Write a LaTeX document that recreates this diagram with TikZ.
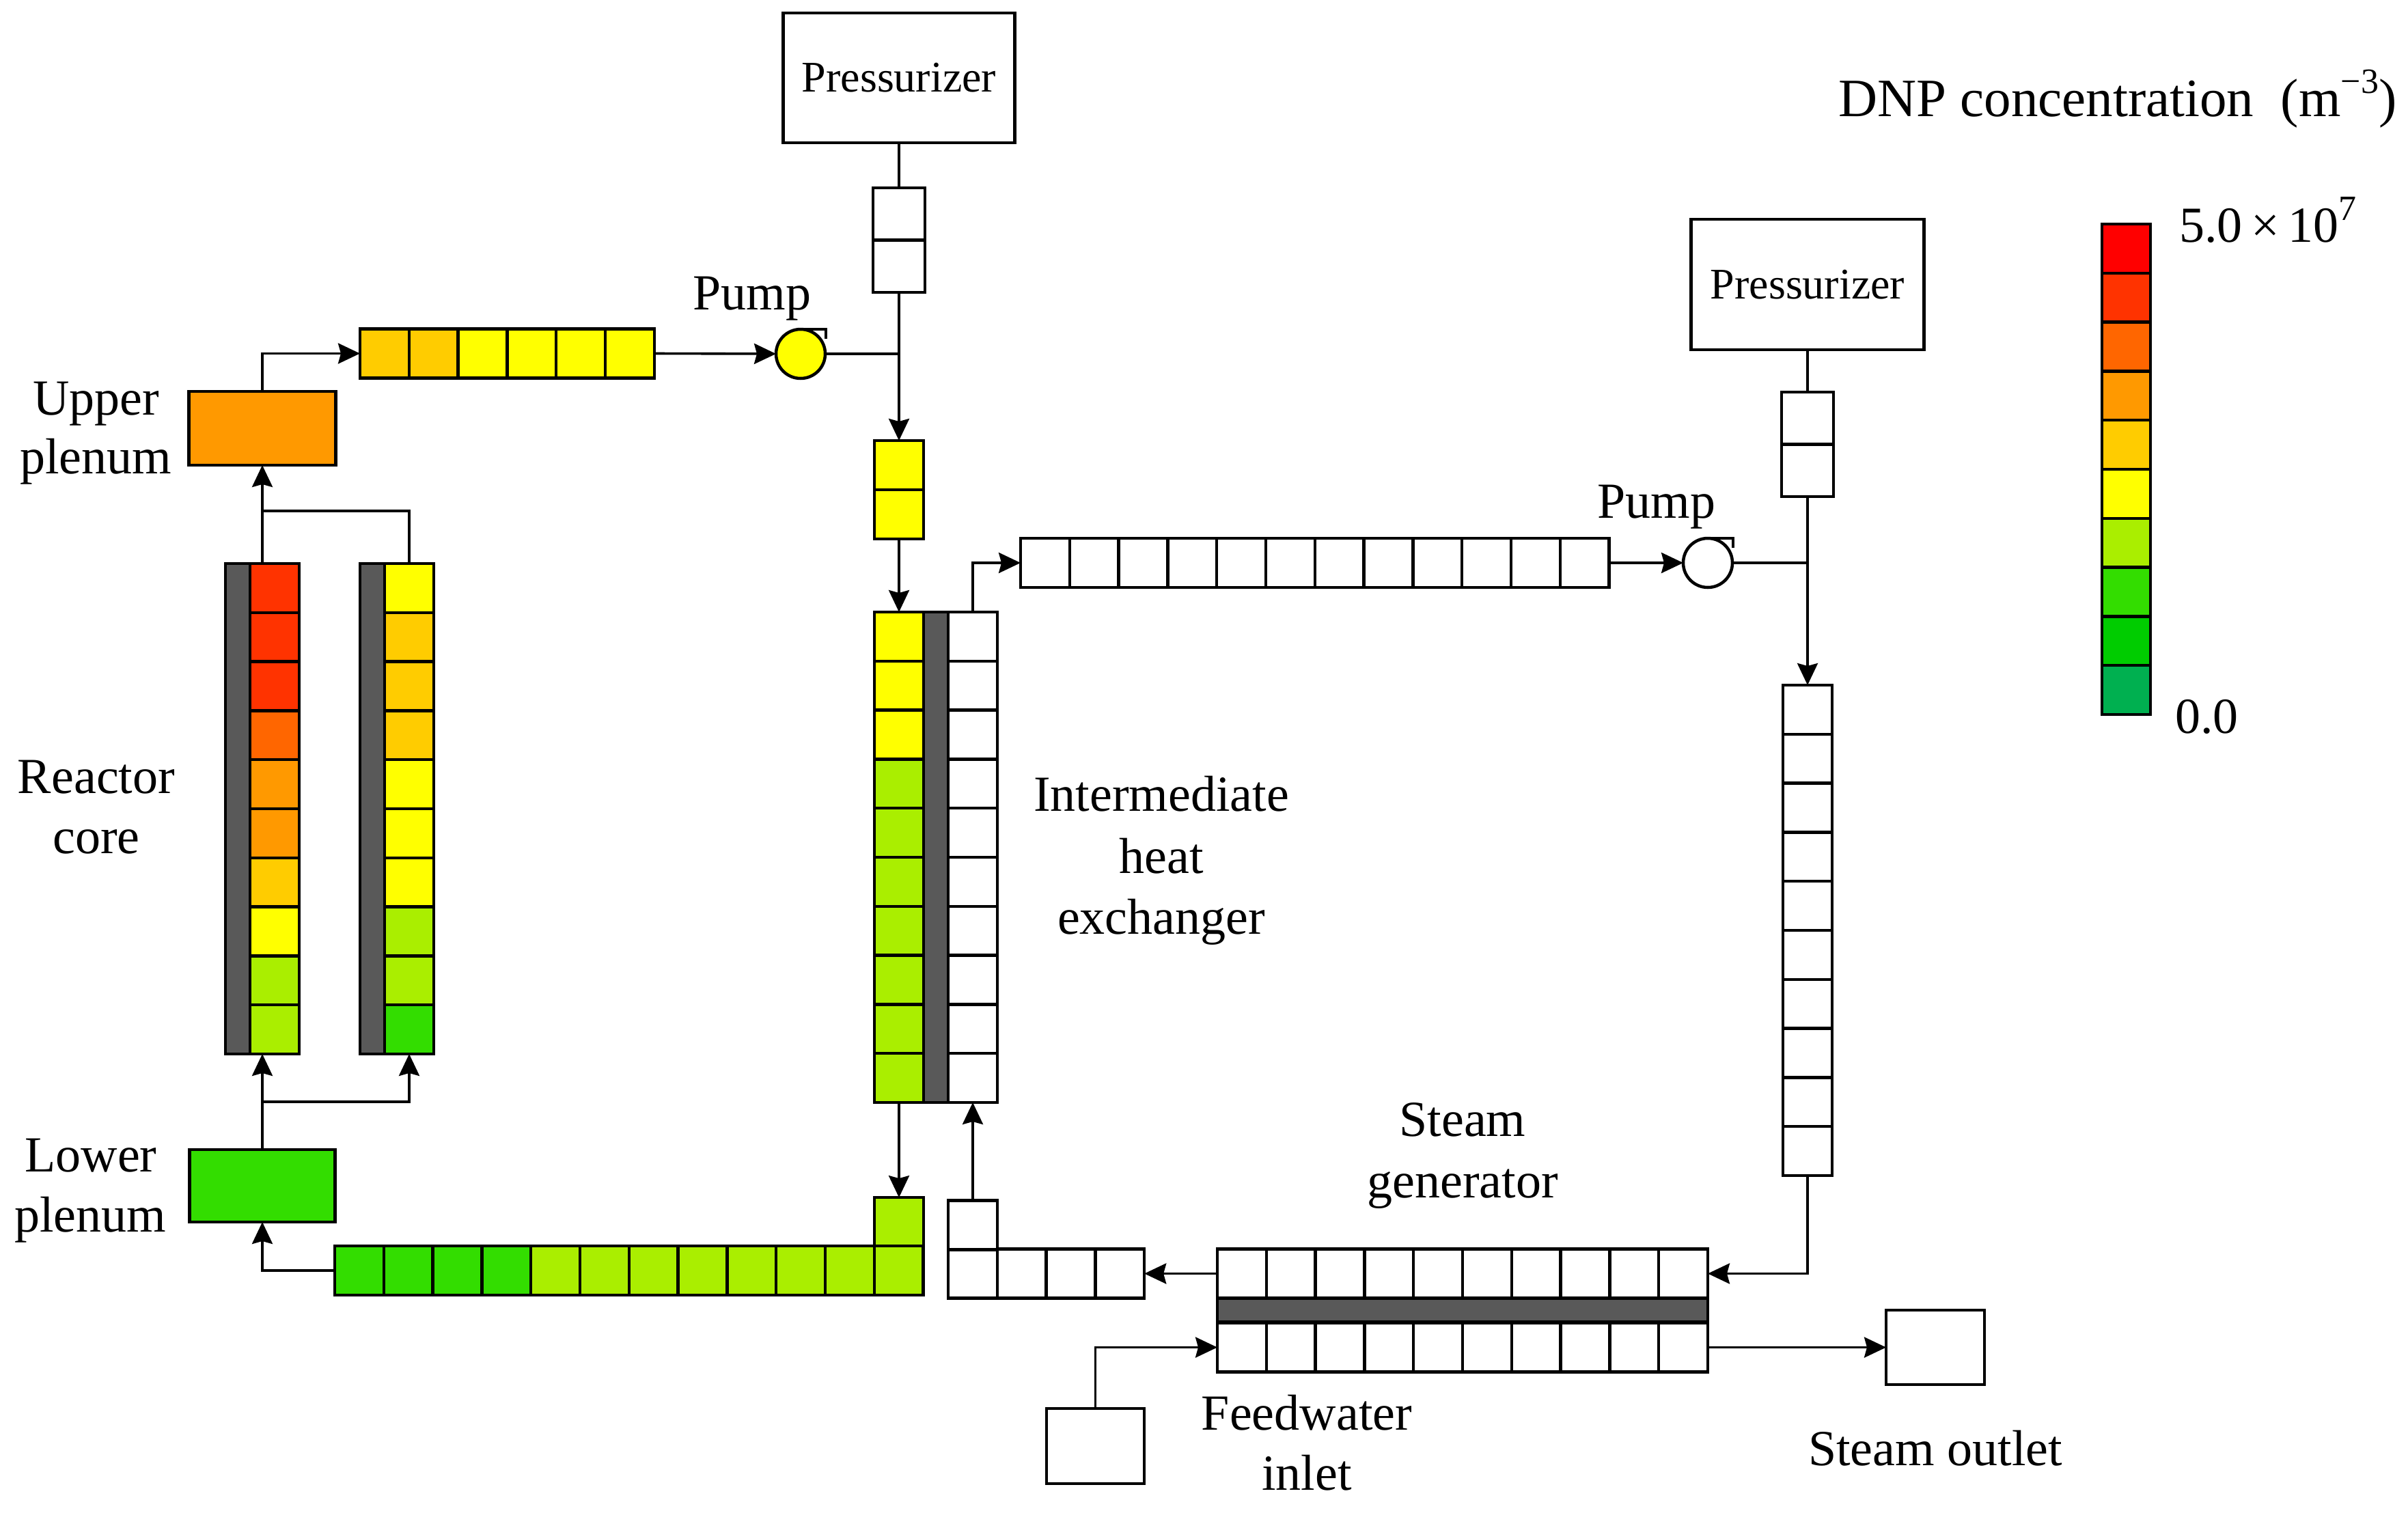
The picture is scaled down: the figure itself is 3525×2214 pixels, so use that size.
\documentclass[tikz,border=0pt]{standalone}
\usepackage{fontspec}
\setmainfont{Liberation Serif}
\usetikzlibrary{arrows.meta}
\definecolor{cA}{HTML}{FF0000}
\definecolor{cB}{HTML}{FF3300}
\definecolor{cC}{HTML}{FF6600}
\definecolor{cD}{HTML}{FF9900}
\definecolor{cE}{HTML}{FFCC00}
\definecolor{cF}{HTML}{FFFF00}
\definecolor{cG}{HTML}{AAEE00}
\definecolor{cH}{HTML}{33DD00}
\definecolor{cI}{HTML}{00CC00}
\definecolor{cJ}{HTML}{00B050}
\definecolor{dk}{HTML}{595959}
\newcommand{\mysup}[1]{\raisebox{0.42em}{\fontsize{52}{52}\selectfont #1}}
\begin{document}
\begin{tikzpicture}[x=1pt,y=-1pt,
  cell/.style={draw=black, line width=4.5pt, inner sep=0pt, outer sep=0pt, minimum width=71.8pt, minimum height=71.8pt, fill=white},
  box/.style={draw=black, line width=4.5pt, inner sep=0pt, outer sep=0pt, fill=white},
  dark/.style={draw=black, line width=4.5pt, inner sep=0pt, outer sep=0pt, fill=dk},
  outline/.style={draw=black, line width=4.5pt, inner sep=0pt, outer sep=0pt},
  pumpc/.style={circle, draw=black, line width=4.5pt, inner sep=0pt, outer sep=0pt, minimum size=72pt},
  conn/.style={draw=black, line width=3.6pt},
  arr/.style={conn, -{Stealth[length=32pt,width=30pt,inset=4pt]}},
  lbl/.style={font=\fontsize{74}{88}\selectfont, inner sep=0pt, anchor=base},
  pzlbl/.style={font=\fontsize{64}{76}\selectfont}]
\useasboundingbox (0,0) rectangle (3525,2214);

% ---------- Reactor core columns ----------
\node[dark, minimum width=36pt, minimum height=718pt] (d1) at (348,1184) {};
\foreach \c [count=\i from 0] in {cB,cB,cB,cC,cD,cD,cE,cF,cG,cG}
  \node[cell, fill=\c] (ka\i) at (402, 860.9+71.8*\i) {};
\node[outline, minimum width=108pt, minimum height=718pt] (k1) at (384,1184) {};

\node[dark, minimum width=36pt, minimum height=718pt] (d2) at (545,1184) {};
\foreach \c [count=\i from 0] in {cF,cE,cE,cE,cF,cF,cF,cG,cG,cH}
  \node[cell, fill=\c] (kb\i) at (599, 860.9+71.8*\i) {};
\node[outline, minimum width=108pt, minimum height=718pt] (k2) at (581,1184) {};

% ---------- Plenums ----------
\node[box, fill=cD, minimum width=215pt, minimum height=108pt] (uplen) at (384,627) {};
\node[box, fill=cH, minimum width=213pt, minimum height=106pt] (lplen) at (384,1736) {};

% ---------- Hot leg pipe ----------
\foreach \c [count=\i from 0] in {cE,cE,cF,cF,cF,cF}
  \node[cell, fill=\c] (pa\i) at (562.9+71.8*\i, 517.5) {};

% ---------- Pump 1 and pressurizer 1 ----------
\node[pumpc, fill=cF] (pump1) at (1172,518) {};
\draw[conn] (pump1.north) -- ++(37,0) -- ++(0,14);
\node[box, pzlbl, minimum width=339pt, minimum height=190pt] (pz1) at (1316,114) {Pressurizer};
\node[cell, minimum width=76pt, minimum height=76.5pt] (pzc0) at (1316,313.25) {};
\node[cell, minimum width=76pt, minimum height=76.5pt] (pzc1) at (1316,389.75) {};
\node[cell, fill=cF, minimum height=72pt] (yc0) at (1316,681) {};
\node[cell, fill=cF, minimum height=72pt] (yc1) at (1316,753) {};

% ---------- IHX ----------
\node[dark, minimum width=36pt, minimum height=718pt] (ihxd) at (1370,1255) {};
\foreach \c [count=\i from 0] in {cF,cF,cF,cG,cG,cG,cG,cG,cG,cG}
  \node[cell, fill=\c] (ihp\i) at (1316, 931.9+71.8*\i) {};
\foreach \i in {0,...,9}
  \node[cell] (ihs\i) at (1424, 931.9+71.8*\i) {};

% ---------- Cold leg (primary) ----------
\node[cell, fill=cG] (bpup) at (1316,1789) {};
\foreach \c [count=\i from 0] in {cH,cH,cH,cH,cG,cG,cG,cG,cG,cG,cG,cG}
  \node[cell, fill=\c] (bp\i) at (525.9+71.8*\i, 1860) {};

% ---------- Secondary loop ----------
\foreach \i in {0,...,11}
  \node[cell] (mp\i) at (1529.9+71.8*\i, 824) {};
\node[pumpc, fill=white] (pump2) at (2500,824) {};
\draw[conn] (pump2.north) -- ++(37,0) -- ++(0,14);
\node[box, pzlbl, minimum width=341pt, minimum height=191pt] (pz2) at (2646,416.5) {Pressurizer};
\node[cell, minimum width=76pt, minimum height=76.5pt] (pzd0) at (2646,612.25) {};
\node[cell, minimum width=76pt, minimum height=76.5pt] (pzd1) at (2646,688.75) {};
\foreach \i in {0,...,9}
  \node[cell] (rc\i) at (2646, 1038.9+71.8*\i) {};

% ---------- Steam generator ----------
\foreach \i in {0,...,9}
  \node[cell] (sgt\i) at (1817.9+71.8*\i, 1864.5) {};
\node[dark, minimum width=718pt, minimum height=35pt] (sgd) at (2141,1918) {};
\foreach \i in {0,...,9}
  \node[cell] (sgb\i) at (1817.9+71.8*\i, 1972.5) {};

\foreach \i in {0,...,3}
  \node[cell] (wp\i) at (1423.9+71.8*\i, 1864.5) {};
\node[cell] (wpup) at (1424,1793.6) {};

\node[box, minimum width=143pt, minimum height=110pt] (fw) at (1603.5,2117) {};
\node[box, minimum width=144pt, minimum height=109pt] (so) at (2833,1972.5) {};

% ---------- Colour bar ----------
\foreach \c [count=\i from 0] in {cA,cB,cC,cD,cE,cF,cG,cH,cI,cJ}
  \node[cell, fill=\c, minimum width=71pt] (cb\i) at (3112.5, 363.9+71.8*\i) {};

% ---------- Connectors ----------
\coordinate (jtop) at (384,748);
\coordinate (jbot) at (384,1613);
\coordinate (j1) at (1316,518);
\coordinate (j2) at (2646,824);

\draw[arr] (k1.north) -- (uplen.south);
\draw[conn] (kb0.north) |- (jtop);
\draw[arr] (uplen.north) |- (pa0.west);
\draw[arr] (pa5.east) -- (pump1.west);
\draw[conn] (pump1.east) -- (j1);
\draw[conn] (pz1.south) -- (pzc0.north);
\draw[arr] (pzc1.south) -- (yc0.north);
\draw[arr] (yc1.south) -- (ihp0.north);
\draw[arr] (ihp9.south) -- (bpup.north);
\draw[arr] (bp0.west) -| (lplen.south);
\draw[arr] (lplen.north) -- (k1.south);
\draw[arr] (jbot) -| (kb9.south);

\draw[arr] (ihs0.north) |- (mp0.west);
\draw[arr] (mp11.east) -- (pump2.west);
\draw[conn] (pump2.east) -- (j2);
\draw[conn] (pz2.south) -- (pzd0.north);
\draw[arr] (pzd1.south) -- (rc0.north);
\draw[arr] (rc9.south) |- (sgt9.east);
\draw[arr] (sgt0.west) -- (wp3.east);
\draw[arr] (wpup.north) -- (ihs9.south);
\draw[arr] (fw.north) |- (sgb0.west);
\draw[arr] (sgb9.east) -- (so.west);

% ---------- Labels ----------
\node[lbl] (tUp1) at (141,607) {Upper};
\node[lbl] (tUp2) at (140,693) {plenum};
\node[lbl] (tRc1) at (141,1161) {Reactor};
\node[lbl] (tRc2) at (141,1249) {core};
\node[lbl] (tLp1) at (133,1715) {Lower};
\node[lbl] (tLp2) at (132,1803) {plenum};
\node[lbl] (tPu1) at (1101,453) {Pump};
\node[lbl] (tPu2) at (2425,758) {Pump};
\node[lbl] (tIh1) at (1700,1187) {Intermediate};
\node[lbl] (tIh2) at (1700,1278) {heat};
\node[lbl] (tIh3) at (1700,1367) {exchanger};
\node[lbl] (tSg1) at (2141,1663) {Steam};
\node[lbl] (tSg2) at (2141,1753) {generator};
\node[lbl] (tFw1) at (1913,2093) {Feedwater};
\node[lbl] (tFw2) at (1913,2181) {inlet};
\node[lbl] (tSo) at (2833,2145) {Steam outlet};
\node[lbl, font=\fontsize{79}{90}\selectfont] (tDnp) at (3100,170) {DNP concentration\ \ (m\mysup{−3})};
\node[lbl, anchor=base west] (tMax) at (3190,354) {5.0\,×\,10\mysup{7}};
\node[lbl, anchor=base west] (tMin) at (3184,1073) {0.0};
\end{tikzpicture}
\end{document}
